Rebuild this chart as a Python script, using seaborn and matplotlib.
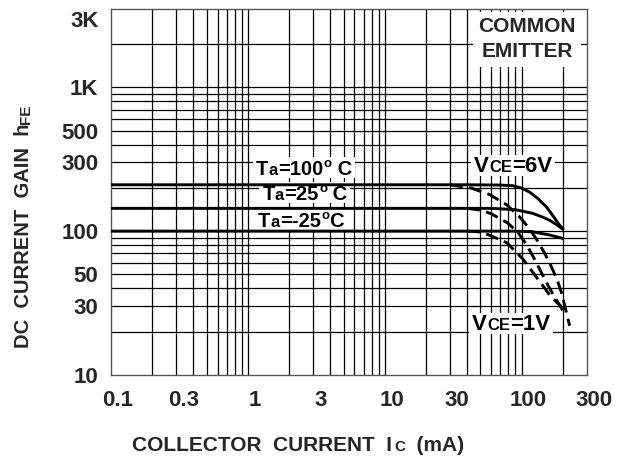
import matplotlib
matplotlib.use("Agg")
import matplotlib.pyplot as plt
import matplotlib.transforms as mtransforms
from matplotlib.patches import Rectangle
import numpy as np
import pandas as pd
import seaborn as sns

# ---------------- data ----------------
# VCE = 6 V (solid)
ic_6v_t100 = [0.1, 1, 10, 40, 70, 86, 100, 114, 130, 152, 170, 189, 200]
hfe_6v_t100 = [210, 210, 210, 210, 209, 207, 199, 187, 170, 147, 127, 110, 104]
ic_6v_t25 = [0.1, 1, 10, 60, 90, 120, 140, 160, 180, 200]
hfe_6v_t25 = [144, 144, 144, 144, 141, 133, 126, 119, 111, 103]
ic_6v_tm25 = [0.1, 1, 10, 90, 120, 160, 200]
hfe_6v_tm25 = [100, 100, 100, 100, 99, 94, 89]
# VCE = 1 V (dashed)
ic_1v_t100 = [30, 43, 58, 78, 97, 113, 129, 145, 160, 180, 196, 224]
hfe_1v_t100 = [210, 199, 180, 152, 125, 105, 87, 72, 60, 47, 37, 22]
ic_1v_t25 = [40, 50, 60, 79, 94, 109, 125, 140, 160, 180, 200]
hfe_1v_t25 = [144, 140, 132, 114, 98, 80, 63, 51, 40, 33, 28]
ic_1v_tm25 = [40, 48, 58, 78, 102, 120, 142, 160, 180, 195]
hfe_1v_tm25 = [100, 99, 94, 83, 64, 52, 42, 36, 32, 30]

x_tick_vals = [0.1, 0.3, 1, 3, 10, 30, 100, 300]
x_tick_labels = ["0.1", "0.3", "1", "3", "10", "30", "100", "300"]
y_tick_vals = [10, 30, 50, 100, 300, 500, 1000, 3000]
y_tick_labels = ["10", "30", "50", "100", "300", "500", "1K", "3K"]

x_grid = [0.2, 0.3, 0.4, 0.5, 0.6, 0.7, 0.8, 0.9, 1, 2, 3, 4, 5, 6, 7, 8, 9, 10,
          20, 30, 40, 50, 60, 70, 80, 90, 100, 200]
y_grid = [20, 30, 40, 50, 60, 70, 80, 90, 100, 200, 300, 400, 500, 600, 700,
          800, 900, 1000, 2000]

curves = [
    ("6V", "100", ic_6v_t100, hfe_6v_t100),
    ("6V", "25", ic_6v_t25, hfe_6v_t25),
    ("6V", "-25", ic_6v_tm25, hfe_6v_tm25),
    ("1V", "100", ic_1v_t100, hfe_1v_t100),
    ("1V", "25", ic_1v_t25, hfe_1v_t25),
    ("1V", "-25", ic_1v_tm25, hfe_1v_tm25),
]
rows = []
for vce, ta, xs, ys in curves:
    for x, y in zip(xs, ys):
        rows.append({"VCE": vce, "Ta": ta, "curve": vce + "_" + ta, "Ic": x, "hFE": y})
df = pd.DataFrame(rows)

# ---------------- style ----------------
sns.set_theme(style="white")
plt.rcParams["font.family"] = ["Liberation Sans", "DejaVu Sans"]
plt.rcParams["font.weight"] = "bold"

W, H = 632, 461
fig = plt.figure(figsize=(W / 100, H / 100), dpi=100)
ax = fig.add_axes([111 / W, 1 - 375 / H, 476 / W, 366 / H])
ax.set_facecolor("white")

sns.lineplot(data=df, x="Ic", y="hFE", units="curve", estimator=None,
             style="VCE", dashes={"6V": "", "1V": (4.4, 2.2)},
             color="black", lw=2.1, sort=False, legend=False, ax=ax, zorder=5)

ax.set_xscale("log")
ax.set_yscale("log")
ax.set_xlim(0.1, 300)
ax.set_ylim(10, 3500)

for gx in x_grid:
    ax.axvline(gx, color="black", lw=0.9, zorder=1)
for gy in y_grid:
    ax.axhline(gy, color="black", lw=0.9, zorder=1)

ax.set_xticks(x_tick_vals)
ax.set_xticklabels(x_tick_labels)
ax.set_yticks(y_tick_vals)
ax.set_yticklabels(y_tick_labels)
ax.minorticks_off()
ax.tick_params(axis="both", which="major", length=3, width=0.8, color="#555555",
               direction="out", labelsize=16)
ax.tick_params(axis="x", pad=8)
ax.tick_params(axis="y", pad=6)
for lab in ax.get_xticklabels() + ax.get_yticklabels():
    lab.set_fontweight("bold")
ax.set_xlabel("")
ax.set_ylabel("")
for sp in ax.spines.values():
    sp.set_color("#555555")
    sp.set_linewidth(1.0)

# shift x tick labels slightly right like the reference
offset = mtransforms.ScaledTranslation(7 / 100, 0, fig.dpi_scale_trans)
for lab in ax.get_xticklabels():
    lab.set_transform(lab.get_transform() + offset)

DESC = 0.21  # descent of the "lp" box, as a fraction of the font size


# ---------------- composed labels ----------------
def chain(pieces, x, y):
    """pieces: list of (text, size, raise_pt). All pieces share one baseline."""
    texts = []
    first = None
    prev = None
    for txt, size, rise in pieces:
        kw = dict(fontsize=size, fontweight="bold", zorder=6, color="black",
                  annotation_clip=False, va="baseline", ha="left")
        if prev is None:
            t = ax.annotate(txt, xy=(x, y), xycoords="axes fraction", **kw)
            first = t
        else:
            gap = 0.6 if rise else 0.0
            t = ax.annotate(txt, xy=(1, 0), xycoords=(prev, first),
                            xytext=(gap, DESC * first.get_fontsize() + rise),
                            textcoords="offset points", **kw)
        prev = t
        texts.append(t)
    return texts


TS, TA, TO = 14.5, 12, 9.5
label_groups = []
label_groups.append(chain([("T", TS, 0), ("a", TA, 0), ("=100", TS, 0),
                           ("o", TO, 5.5), (" C", TS, 0)], 0.305, 0.547))
label_groups.append(chain([("T", TS, 0), ("a", TA, 0), ("=25", TS, 0),
                           ("o", TO, 5.5), (" C", TS, 0)], 0.318, 0.478))
label_groups.append(chain([("T", TS, 0), ("a", TA, 0), ("=-25", TS, 0),
                           ("o", TO, 5.5), ("C", TS, 0)], 0.309, 0.404))
label_groups.append(chain([("V", 16, 0), ("CE", 12, 0), ("=6V", 16, 0)], 0.763, 0.555))
label_groups.append(chain([("V", 16, 0), ("CE", 12, 0), ("=1V", 16, 0)], 0.759, 0.123))

ax.text(0.874, 0.917, "COMMON\nEMITTER", transform=ax.transAxes, ha="center",
        va="center", multialignment="center", linespacing=1.4,
        fontsize=15, fontweight="bold", zorder=6,
        bbox=dict(boxstyle="square,pad=0.25", fc="white", ec="none"))

# white backgrounds behind the composed labels (one box per label)
fig.canvas.draw()
renderer = fig.canvas.get_renderer()
inv = ax.transAxes.inverted()
for grp in label_groups:
    exts = [t.get_window_extent(renderer) for t in grp]
    x0 = min(e.x0 for e in exts) - 3
    x1 = max(e.x1 for e in exts) + 3
    y0 = min(e.y0 for e in exts) + 1
    y1 = max(e.y1 for e in exts) + 1
    (ax0, ay0), (ax1, ay1) = inv.transform([(x0, y0), (x1, y1)])
    ax.add_patch(Rectangle((ax0, ay0), ax1 - ax0, ay1 - ay0, transform=ax.transAxes,
                           fc="white", ec="none", zorder=3))

# x axis label: COLLECTOR CURRENT Ic (mA)
xl1 = fig.text(132 / W, 1 - 451 / H, "COLLECTOR  CURRENT  I", ha="left", va="baseline",
               fontsize=15, fontweight="bold")
xl2 = ax.annotate("C", xy=(1, 0), xycoords=xl1, ha="left", va="baseline", fontsize=11,
                  fontweight="bold", annotation_clip=False,
                  xytext=(1.5, DESC * 15), textcoords="offset points")
xl3 = ax.annotate("  (mA)", xy=(1, 0), xycoords=(xl2, xl1), ha="left", va="baseline",
                  fontsize=15, fontweight="bold", annotation_clip=False,
                  xytext=(0, DESC * 15), textcoords="offset points")

# y axis label: DC CURRENT GAIN hFE (rotated, reads bottom to top)
yl1 = fig.text(33 / W, 1 - 348 / H, "DC  CURRENT  GAIN  h", ha="right", va="bottom",
               rotation=90, fontsize=14.5, fontweight="bold")
yl2 = ax.annotate("FE", xy=(1, 1), xycoords=yl1, ha="right", va="bottom", rotation=90,
                  fontsize=11, fontweight="bold", annotation_clip=False)

fig.savefig("out.png", dpi=100)
